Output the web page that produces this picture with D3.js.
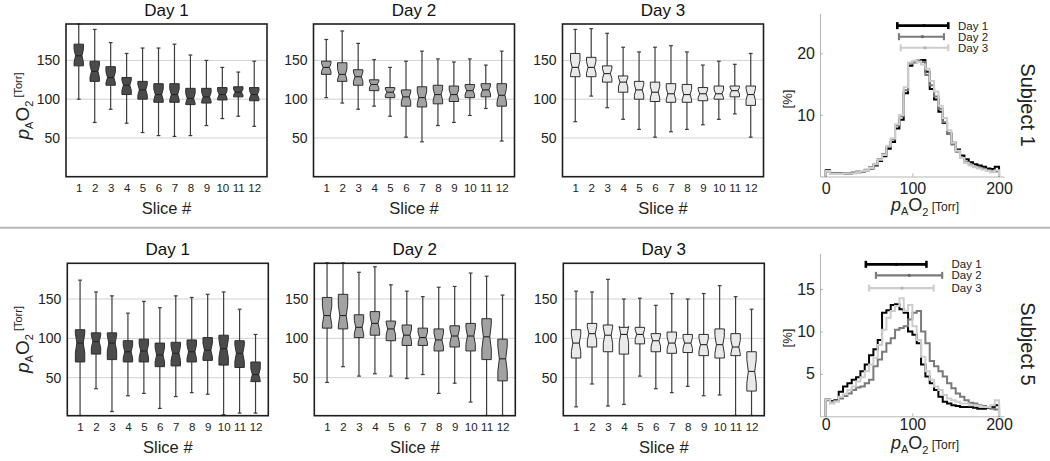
<!DOCTYPE html>
<html><head><meta charset="utf-8">
<script src="https://cdn.jsdelivr.net/npm/d3@7"></script>
<style>
body{margin:0;background:#fff;}
svg{font-family:"Liberation Sans",Arial,Helvetica,sans-serif;}
</style></head><body>
<svg id="c" width="1050" height="461"></svg>
<script>
// ---------- categories / labels ----------
const slices = [1,2,3,4,5,6,7,8,9,10,11,12];
const dayTitles = ["Day 1","Day 2","Day 3"];
const subjectLabels = ["Subject 1","Subject 5"];
const boxYTicks = [50,100,150];
const hist1YTicks = [10,20];
const hist5YTicks = [5,10,15];
const histXTicks = [0,100,200];
const histBinStarts = [0,5,10,15,20,25,30,35,40,45,50,55,60,65,70,75,80,85,90,95,100,105,110,115,120,125,130,135,140,145,150,155,160,165,170,175,180,185,190,195];
const histBinWidth = 5;

// ---------- Subject 1 boxplots (whisker low, Q1, median, Q3, whisker high) ----------
const s1d1Lo  = [100, 70, 87, 69, 57, 53, 52, 53, 66, 75, 78, 65];
const s1d1Q1  = [143,123,118,106,100, 96, 96, 93, 95, 99,103, 98];
const s1d1Med = [156,136,128,118,112,106,106,101,103,106,109,106];
const s1d1Q3  = [171,149,142,128,123,120,120,114,114,115,116,115];
const s1d1Hi  = [197,190,173,159,166,166,171,157,150,141,135,149];

const s1d2Lo  = [102, 95, 87, 91, 78, 51, 45, 66, 70, 79, 88, 46];
const s1d2Q1  = [132,123,118,111,102, 91, 90, 94, 97,102,103, 91];
const s1d2Med = [141,132,129,119,109,103,102,106,106,111,112,105];
const s1d2Q3  = [149,147,138,125,115,112,116,118,117,119,120,120];
const s1d2Hi  = [177,188,172,151,141,149,162,152,148,152,144,162];

const s1d3Lo  = [ 71,104, 89, 74, 61, 51, 58, 61, 67, 74, 81, 51];
const s1d3Q1  = [129,129,122,109,100, 97, 96, 96, 98,100,103, 92];
const s1d3Med = [141,141,133,122,112,109,107,106,107,107,111,106];
const s1d3Q3  = [159,154,143,130,123,122,120,119,115,117,117,117];
const s1d3Hi  = [190,191,185,167,161,167,169,161,144,149,145,159];

// ---------- Subject 5 boxplots ----------
const s5d1Lo  = [  2, 36,  7, 27, 30, 11, 26, 31, 29,  3,  5,  5];
const s5d1Q1  = [ 70, 80, 73, 70, 70, 64, 65, 70, 72, 66, 63, 45];
const s5d1Med = [ 94, 96, 94, 83, 84, 79, 81, 83, 85, 87, 81, 54];
const s5d1Q3  = [111,107,107, 97, 99, 94, 95, 98,101,104, 97, 70];
const s5d1Hi  = [174,159,154,132,147,139,154,152,156,159,137,105];

const s5d2Lo  = [ 44, 64, 52, 55, 52, 49, 54, 30, 43, 19,  2,  2];
const s5d2Q1  = [113,112,101,104, 97, 91, 91, 84, 89, 84, 73, 46];
const s5d2Med = [129,129,114,119,112,104,101, 98,103,103,102, 74];
const s5d2Q3  = [152,156,130,134,122,117,113,112,116,119,125, 99];
const s5d2Hi  = [196,196,184,191,168,160,153,165,166,183,179,155];

const s5d3Lo  = [ 13, 42, 14, 16, 52, 36, 31, 39, 27, 28,  2,  2];
const s5d3Q1  = [ 75, 89, 83, 80, 93, 83, 81, 82, 78, 75, 78, 33];
const s5d3Med = [ 94,106,104,105,105, 97, 94, 94, 92, 92, 89, 58];
const s5d3Q3  = [111,119,117,114,114,106,108,105,105,112,106, 83];
const s5d3Hi  = [160,159,175,150,151,142,157,150,157,167,153,137];

// ---------- Histograms [%] per 5-Torr bin ----------
const h1d1 = [1.0,0.5,0.5,0.5,0.5,0.5,0.6,0.7,0.8,1.0,1.3,1.8,2.5,3.3,4.5,5.6,7.8,9.2,13.5,18.0,18.6,18.8,18.9,17.0,14.2,12.5,10.5,8.7,7.0,5.5,4.4,3.4,2.8,2.3,2.0,1.8,1.6,1.3,1.2,1.6];
const h1d2 = [0.8,0.4,0.4,0.5,0.5,0.5,0.6,0.8,0.9,1.1,1.5,2.0,2.8,3.6,4.8,6.0,8.3,9.8,14.0,18.3,18.5,18.8,18.6,16.5,14.8,13.0,11.0,8.8,7.0,5.2,4.0,3.0,2.3,1.9,1.6,1.4,1.2,1.0,0.8,0.8];
const h1d3 = [0.9,0.4,0.4,0.4,0.5,0.5,0.5,0.7,0.9,1.0,1.4,2.0,2.7,3.5,5.0,6.2,8.5,10.0,14.5,18.5,18.8,18.6,18.2,17.5,15.5,13.8,11.5,9.5,7.5,5.5,4.2,3.0,2.2,1.8,1.5,1.3,1.1,0.9,0.7,1.0];

const h5d1 = [2.0,1.8,1.9,2.9,3.5,3.9,4.3,4.6,5.3,6.1,7.2,7.9,9.0,12.2,12.5,13.1,13.2,12.6,12.2,10.0,9.6,8.6,6.1,4.7,3.9,3.1,2.3,1.7,1.5,1.3,1.2,1.1,1.1,1.1,1.0,0.9,0.9,1.0,1.1,1.3];
const h5d2 = [1.9,1.7,1.8,2.1,2.4,2.7,3.1,3.4,3.5,3.9,4.3,5.9,6.7,7.6,8.6,9.2,10.2,10.4,10.6,11.4,12.2,12.4,10.0,8.6,6.5,5.9,5.3,4.7,3.9,3.3,2.7,2.3,1.9,1.6,1.5,1.3,1.2,1.1,0.9,0.8];
const h5d3 = [2.0,1.5,1.7,2.3,2.6,3.1,3.5,4.1,4.6,5.3,6.1,6.9,8.4,10.2,11.6,12.4,13.0,13.9,12.4,13.1,10.6,9.0,7.0,5.3,4.3,3.5,3.1,2.5,2.1,1.9,1.7,1.5,1.5,1.3,1.3,1.2,1.1,1.1,1.3,1.9];

// ---------- range bars above histograms ----------
const r1Mean = [113.5,111.6,114.6];
const r1Lo   = [ 82.6, 84.5, 86.4];
const r1Hi   = [141.4,136.4,141.4];
const r1Lvl  = [ 24.5, 22.7, 20.9];
const r5Mean = [ 81.4, 96.3, 88.0];
const r5Lo   = [ 46.3, 57.9, 50.0];
const r5Hi   = [116.2,134.4,124.6];
const r5Lvl  = [ 17.9, 16.6, 15.1];

// ---------- styles ----------
const FONT = '"Liberation Sans",Arial,Helvetica,sans-serif';
const boxFills = ["#4b4b4b","#a2a2a2","#e9e9e9"];
const lineColors = ["#000000","#7a7a7a","#cdcdcd"];
const notchFrac = 0.3;

const svg = d3.select("#c");

// separator
svg.append("line").attr("x1",0).attr("x2",1050).attr("y1",227.7).attr("y2",227.7)
  .attr("stroke","#b8b8b8").attr("stroke-width",2);

function drawBoxPanel(cfg){
  const W = 201;
  const {left, top, bottom, yDom, lo, q1, med, q3, hi, fill, title, yTitleCy} = cfg;
  const x = d3.scaleLinear().domain([0.2,12.8]).range([left,left+W]);
  const y = d3.scaleLinear().domain(yDom).range([bottom,top]);
  const g = svg.append("g");
  g.selectAll("line.grid").data(boxYTicks).join("line")
    .attr("x1",left).attr("x2",left+W).attr("y1",d=>y(d)).attr("y2",d=>y(d))
    .attr("stroke","#d2d2d2").attr("stroke-width",1);
  const idx = slices.map((s,i)=>i);
  const w = 4.7, k = 0.68, cap = 1.9;
  // whiskers
  g.selectAll("line.wh").data(idx).join("line")
    .attr("x1",i=>x(slices[i])).attr("x2",i=>x(slices[i]))
    .attr("y1",i=>y(lo[i])).attr("y2",i=>y(hi[i]))
    .attr("stroke","#3c3c3c").attr("stroke-width",1.2);
  ["lo","hi"].forEach(which=>{
    const arr = which==="lo"?lo:hi;
    g.selectAll("line.cap"+which).data(idx).join("line")
      .attr("x1",i=>x(slices[i])-cap).attr("x2",i=>x(slices[i])+cap)
      .attr("y1",i=>y(arr[i])).attr("y2",i=>y(arr[i]))
      .attr("stroke","#3c3c3c").attr("stroke-width",1.2);
  });
  // notched boxes
  g.selectAll("path.box").data(idx).join("path")
    .attr("d",i=>{
      const cx = x(slices[i]);
      const iqr = q3[i]-q1[i];
      const nH = med[i]+notchFrac*iqr, nL = med[i]-notchFrac*iqr;
      const pts = [
        [cx-w,y(q3[i])],[cx-w,y(nH)],[cx-w*k,y(med[i])],[cx-w,y(nL)],[cx-w,y(q1[i])],
        [cx+w,y(q1[i])],[cx+w,y(nL)],[cx+w*k,y(med[i])],[cx+w,y(nH)],[cx+w,y(q3[i])]
      ];
      return "M"+pts.map(p=>p.join(",")).join("L")+"Z";
    })
    .attr("fill",fill).attr("stroke","#2e2e2e").attr("stroke-width",1).attr("stroke-linejoin","round");
  g.selectAll("line.med").data(idx).join("line")
    .attr("x1",i=>x(slices[i])-w*k).attr("x2",i=>x(slices[i])+w*k)
    .attr("y1",i=>y(med[i])).attr("y2",i=>y(med[i]))
    .attr("stroke","#222").attr("stroke-width",1.1);
  // frame
  g.append("rect").attr("x",left).attr("y",top).attr("width",W).attr("height",bottom-top)
    .attr("fill","none").attr("stroke","#1e1e1e").attr("stroke-width",1.6);
  // y axis labels
  const ya = g.append("g").attr("transform",`translate(${left},0)`)
    .call(d3.axisLeft(y).tickValues(boxYTicks).tickSize(0).tickPadding(6));
  ya.select(".domain").remove();
  ya.attr("font-family",FONT).selectAll("text").attr("font-size",14).attr("fill","#222");
  // x axis labels
  const xa = g.append("g").attr("transform",`translate(0,${bottom})`)
    .call(d3.axisBottom(x).tickValues(slices).tickSize(0).tickPadding(7));
  xa.select(".domain").remove();
  xa.attr("font-family",FONT).selectAll("text").attr("font-size",11.5).attr("fill","#222");
  // x title
  g.append("text").attr("x",left+W/2).attr("y",bottom+37).attr("text-anchor","middle")
    .attr("font-size",16.5).attr("fill","#222").text("Slice #");
  // title
  g.append("text").attr("x",left+W/2).attr("y",top-8).attr("text-anchor","middle")
    .attr("font-size",17).attr("fill","#111").text(title);
  if (yTitleCy !== undefined){
    const t = g.append("text").attr("transform",`translate(29,${yTitleCy}) rotate(-90)`)
      .attr("text-anchor","middle").attr("fill","#222");
    t.append("tspan").attr("font-size",19).attr("font-style","italic").text("p");
    t.append("tspan").attr("font-size",11).attr("dy",4).text("A");
    t.append("tspan").attr("font-size",19).attr("dy",-4).text("O");
    t.append("tspan").attr("font-size",11).attr("dy",4).text("2");
    t.append("tspan").attr("font-size",11).attr("dy",-11).text(" [Torr]");
  }
}

const topRow = {top:24, bottom:176.7, yDom:[0,197], lefts:[66,313.5,562.5]};
const botRow = {top:263.3, bottom:415.7, yDom:[1.7,195.4], lefts:[67.3,314.3,563.3]};
const s1Sets = [[s1d1Lo,s1d1Q1,s1d1Med,s1d1Q3,s1d1Hi],[s1d2Lo,s1d2Q1,s1d2Med,s1d2Q3,s1d2Hi],[s1d3Lo,s1d3Q1,s1d3Med,s1d3Q3,s1d3Hi]];
const s5Sets = [[s5d1Lo,s5d1Q1,s5d1Med,s5d1Q3,s5d1Hi],[s5d2Lo,s5d2Q1,s5d2Med,s5d2Q3,s5d2Hi],[s5d3Lo,s5d3Q1,s5d3Med,s5d3Q3,s5d3Hi]];
[[topRow,s1Sets,106],[botRow,s5Sets,339.5]].forEach(([row,sets,ycy])=>{
  sets.forEach((s,d)=>{
    drawBoxPanel({left:row.lefts[d], top:row.top, bottom:row.bottom, yDom:row.yDom,
      lo:s[0], q1:s[1], med:s[2], q3:s[3], hi:s[4], fill:boxFills[d], title:dayTitles[d],
      yTitleCy: d===0 ? ycy : undefined});
  });
});

function drawHist(cfg){
  const {top, bottom, yMax, yTicks, series, rMean, rLo, rHi, rLvl, subject, xLabPad, xTitleY, pctCy, legendX, subjCy} = cfg;
  const x = d3.scaleLinear().domain([-6.6,205.7]).range([820,1004]);
  const y = d3.scaleLinear().domain([0,yMax]).range([bottom,top]);
  const g = svg.append("g");
  const ya = g.append("g").attr("transform","translate(820,0)")
    .call(d3.axisLeft(y).tickValues(yTicks).tickSizeInner(-3).tickSizeOuter(0).tickPadding(5));
  ya.select(".domain").attr("stroke","#b5b5b5");
  ya.selectAll(".tick line").attr("stroke","#b5b5b5");
  ya.attr("font-family",FONT).selectAll("text").attr("font-size",16).attr("fill","#222");
  const xa = g.append("g").attr("transform",`translate(0,${bottom})`)
    .call(d3.axisBottom(x).tickValues(histXTicks).tickSizeInner(-3).tickSizeOuter(0).tickPadding(xLabPad));
  xa.select(".domain").attr("stroke","#b5b5b5");
  xa.selectAll(".tick line").attr("stroke","#b5b5b5");
  xa.attr("font-family",FONT).selectAll("text").attr("font-size",16).attr("fill","#222");
  const line = d3.line().x(d=>x(d[0])).y(d=>y(d[1])).curve(d3.curveStepAfter);
  series.forEach((vals,d)=>{
    const pts = [[histBinStarts[0],0]].concat(vals.map((v,i)=>[histBinStarts[i],v]));
    const last = histBinStarts[histBinStarts.length-1]+histBinWidth;
    pts.push([last,vals[vals.length-1]]); pts.push([last,0]);
    g.append("path").attr("d",line(pts)).attr("fill","none")
      .attr("stroke",lineColors[d]).attr("stroke-width",2).attr("stroke-linejoin","miter");
  });
  // range bars
  rMean.forEach((m,d)=>{
    const yy = y(rLvl[d]);
    const sw = d===0?2.6:2.1;
    g.append("line").attr("x1",x(rLo[d])).attr("x2",x(rHi[d])).attr("y1",yy).attr("y2",yy)
      .attr("stroke",lineColors[d]).attr("stroke-width",sw);
    [rLo[d],rHi[d]].forEach(v=>{
      g.append("line").attr("x1",x(v)).attr("x2",x(v)).attr("y1",yy-3.5).attr("y2",yy+3.5)
        .attr("stroke",lineColors[d]).attr("stroke-width",sw);
    });
    g.append("circle").attr("cx",x(m)).attr("cy",yy).attr("r",1.6)
      .attr("fill",d3.color(lineColors[d]).darker(0.4));
    g.append("text").attr("x",legendX).attr("y",yy).attr("dy","0.35em")
      .attr("font-size",11.5).attr("fill","#222").text(dayTitles[d]);
  });
  // x title
  const t = g.append("text").attr("x",925).attr("y",xTitleY).attr("text-anchor","middle").attr("fill","#222");
  t.append("tspan").attr("font-size",18).attr("font-style","italic").text("p");
  t.append("tspan").attr("font-size",11).attr("dy",4).text("A");
  t.append("tspan").attr("font-size",18).attr("dy",-4).text("O");
  t.append("tspan").attr("font-size",11).attr("dy",5).text("2");
  t.append("tspan").attr("font-size",12).attr("dy",-5).text(" [Torr]");
  // y title
  g.append("text").attr("transform",`translate(792,${pctCy}) rotate(-90)`).attr("text-anchor","middle")
    .attr("font-size",13).attr("fill","#222").text("[%]");
  // subject
  g.append("text").attr("transform",`translate(1021,${subjCy}) rotate(90)`).attr("text-anchor","middle")
    .attr("font-size",20).attr("fill","#222").text(subject);
}

drawHist({top:13.3, bottom:176.5, yMax:26.5, yTicks:hist1YTicks, series:[h1d1,h1d2,h1d3],
  rMean:r1Mean, rLo:r1Lo, rHi:r1Hi, rLvl:r1Lvl, subject:subjectLabels[0], xLabPad:6,
  xTitleY:211, pctCy:99, legendX:958, subjCy:105});
drawHist({top:253.3, bottom:416.3, yMax:19.2, yTicks:hist5YTicks, series:[h5d1,h5d2,h5d3],
  rMean:r5Mean, rLo:r5Lo, rHi:r5Hi, rLvl:r5Lvl, subject:subjectLabels[1], xLabPad:2,
  xTitleY:449, pctCy:338, legendX:951.5, subjCy:344});
</script>
</body></html>
